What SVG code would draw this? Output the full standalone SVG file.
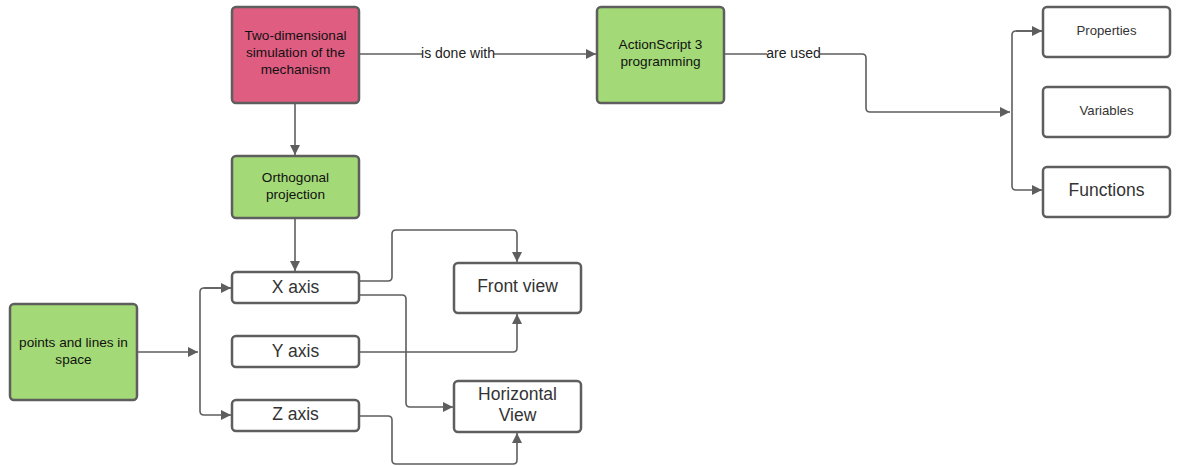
<svg xmlns="http://www.w3.org/2000/svg" width="1178" height="466" viewBox="0 0 1178 466">
<style>
.n{stroke:#5e5e5e;stroke-width:2.5}
.pink{fill:#e05d82}
.green{fill:#a3d977}
.white{fill:#ffffff}
text{font-family:"Liberation Sans",Arial,sans-serif;text-anchor:middle}
.s{font-size:13.6px;fill:#111}
.w{font-size:13.2px;fill:#333}
.b{font-size:17.5px;fill:#333}
.c{fill:none;stroke:#5e5e5e;stroke-width:1.6}
.lbl{font-size:14px;fill:#222}
</style>
<defs>
<marker id="a" viewBox="0 0 10 10" refX="10" refY="5" markerWidth="10" markerHeight="10" markerUnits="userSpaceOnUse" orient="auto">
<path d="M0,0 L10,5 L0,10 z" fill="#5e5e5e"/>
</marker>
</defs>
<rect width="1178" height="466" fill="#ffffff"/>
<g id="connectors">
<path class="c" d="M359,54 H422"/>
<path class="c" d="M494,54 H596" marker-end="url(#a)"/>
<text class="lbl" x="458" y="58">is done with</text>
<path class="c" d="M724,54 H767"/>
<path class="c" d="M820,54 H862 Q866,54 866,58 V108 Q866,112 870,112 H1010" marker-end="url(#a)"/>
<text class="lbl" x="793.5" y="58">are used</text>
<path class="c" d="M1042,31 H1016 Q1012,31 1012,35 V186 Q1012,190 1016,190 H1042" marker-end="url(#a)"/>
<path class="c" d="M1016,31 H1042" marker-end="url(#a)"/>
<path class="c" d="M295,103 V155" marker-end="url(#a)"/>
<path class="c" d="M295,218 V271" marker-end="url(#a)"/>
<path class="c" d="M137,352 H198" marker-end="url(#a)"/>
<path class="c" d="M231,288 H204 Q200,288 200,292 V411 Q200,415 204,415 H231" marker-end="url(#a)"/>
<path class="c" d="M204,288 H231" marker-end="url(#a)"/>
<path class="c" d="M359,281 H388 Q392,281 392,277 V234 Q392,230 396,230 H513 Q517,230 517,234 V262" marker-end="url(#a)"/>
<path class="c" d="M359,295 H402 Q406,295 406,299 V403 Q406,407 410,407 H453" marker-end="url(#a)"/>
<path class="c" d="M359,352 H513 Q517,352 517,348 V314" marker-end="url(#a)"/>
<path class="c" d="M359,416 H388 Q392,416 392,420 V460 Q392,464 396,464 H513 Q517,464 517,460 V433" marker-end="url(#a)"/>
</g>
<g id="twoDim">
<rect class="n pink" x="232" y="7" width="127" height="96" rx="4"/>
<text class="s" x="295.5" y="40">Two-dimensional</text>
<text class="s" x="295.5" y="57">simulation of the</text>
<text class="s" x="295.5" y="74">mechanism</text>
</g>
<g id="actionscript">
<rect class="n green" x="597" y="7" width="127" height="96" rx="4"/>
<text class="s" x="660.5" y="49">ActionScript 3</text>
<text class="s" x="660.5" y="66">programming</text>
</g>
<g id="properties">
<rect class="n white" x="1043" y="7" width="127" height="50" rx="4"/>
<text class="w" x="1106.5" y="35">Properties</text>
</g>
<g id="variables">
<rect class="n white" x="1043" y="87" width="127" height="50" rx="4"/>
<text class="w" x="1106.5" y="115">Variables</text>
</g>
<g id="functions">
<rect class="n white" x="1043" y="167" width="127" height="50" rx="4"/>
<text class="b" x="1106.5" y="196">Functions</text>
</g>
<g id="ortho">
<rect class="n green" x="232" y="156" width="127" height="62" rx="4"/>
<text class="s" x="295.5" y="182">Orthogonal</text>
<text class="s" x="295.5" y="199">projection</text>
</g>
<g id="points">
<rect class="n green" x="10" y="304" width="127" height="96" rx="4"/>
<text class="s" x="73.5" y="347">points and lines in</text>
<text class="s" x="73.5" y="364">space</text>
</g>
<g id="xaxis">
<rect class="n white" x="232" y="272" width="127" height="31" rx="4"/>
<text class="b" x="295.5" y="293">X axis</text>
</g>
<g id="yaxis">
<rect class="n white" x="232" y="336" width="127" height="31" rx="4"/>
<text class="b" x="295.5" y="357">Y axis</text>
</g>
<g id="zaxis">
<rect class="n white" x="232" y="400" width="127" height="31" rx="4"/>
<text class="b" x="295.5" y="420">Z axis</text>
</g>
<g id="front">
<rect class="n white" x="454" y="263" width="127" height="50" rx="4"/>
<text class="b" x="517.5" y="292">Front view</text>
</g>
<g id="horizontal">
<rect class="n white" x="454" y="381" width="127" height="51" rx="4"/>
<text class="b" x="517.5" y="400">Horizontal</text>
<text class="b" x="517.5" y="421">View</text>
</g>
</svg>
